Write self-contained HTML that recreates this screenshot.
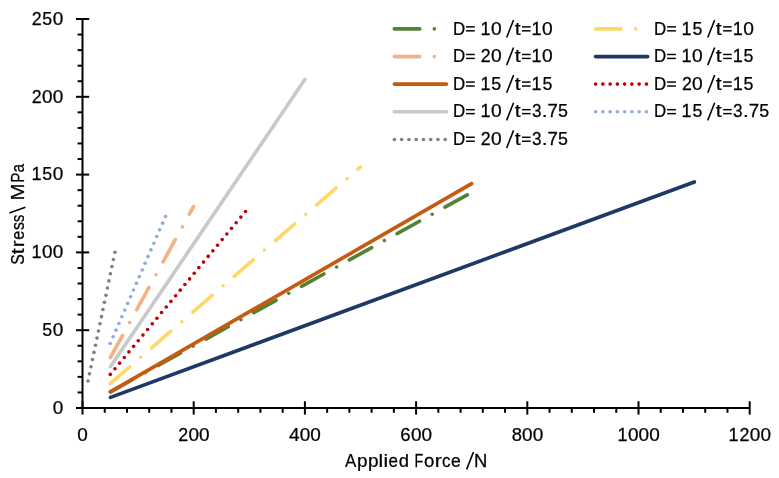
<!DOCTYPE html>
<html><head><meta charset="utf-8"><style>
html,body{margin:0;padding:0;background:#fff;}
svg{display:block;}
</style></head><body>
<svg width="779" height="478" viewBox="0 0 779 478">
<defs><filter id="g" x="-0.05" y="-0.05" width="1.1" height="1.1" color-interpolation-filters="sRGB"><feColorMatrix type="saturate" values="0"/></filter></defs>
<rect width="779" height="478" fill="#fff"/>
<g stroke-width="3.64" stroke-linecap="round" fill="none"><line x1="110.3" y1="391.8" x2="471.6" y2="192.5" stroke="#548235" stroke-dasharray="25.48 14.56 0 14.56" /><line x1="110.3" y1="383.5" x2="360.4" y2="167.0" stroke="#FFD966" stroke-dasharray="25.48 14.56 0 14.56" /><line x1="110.3" y1="357.6" x2="193.5" y2="206.6" stroke="#F4B183" stroke-dasharray="25.48 14.56 0 14.56" /><line x1="110.5" y1="397.4" x2="694.3" y2="182.0" stroke="#203864" /><line x1="110.5" y1="391.8" x2="471.6" y2="183.6" stroke="#C55A11" /><g fill="#C00000" stroke="none"><circle cx="110.30" cy="374.40" r="1.82"/><circle cx="114.96" cy="368.78" r="1.82"/><circle cx="119.62" cy="363.17" r="1.82"/><circle cx="124.29" cy="357.55" r="1.82"/><circle cx="128.95" cy="351.93" r="1.82"/><circle cx="133.61" cy="346.31" r="1.82"/><circle cx="138.27" cy="340.70" r="1.82"/><circle cx="142.93" cy="335.08" r="1.82"/><circle cx="147.60" cy="329.46" r="1.82"/><circle cx="152.26" cy="323.84" r="1.82"/><circle cx="156.92" cy="318.23" r="1.82"/><circle cx="161.58" cy="312.61" r="1.82"/><circle cx="166.24" cy="306.99" r="1.82"/><circle cx="170.91" cy="301.38" r="1.82"/><circle cx="175.57" cy="295.76" r="1.82"/><circle cx="180.23" cy="290.14" r="1.82"/><circle cx="184.89" cy="284.52" r="1.82"/><circle cx="189.56" cy="278.91" r="1.82"/><circle cx="194.22" cy="273.29" r="1.82"/><circle cx="198.88" cy="267.67" r="1.82"/><circle cx="203.54" cy="262.06" r="1.82"/><circle cx="208.20" cy="256.44" r="1.82"/><circle cx="212.87" cy="250.82" r="1.82"/><circle cx="217.53" cy="245.20" r="1.82"/><circle cx="222.19" cy="239.59" r="1.82"/><circle cx="226.85" cy="233.97" r="1.82"/><circle cx="231.51" cy="228.35" r="1.82"/><circle cx="236.18" cy="222.73" r="1.82"/><circle cx="240.84" cy="217.12" r="1.82"/><circle cx="245.50" cy="211.50" r="1.82"/></g><line x1="110.5" y1="366.6" x2="305.0" y2="79.3" stroke="#C9C9C9" /><g fill="#8FAADC" stroke="none"><circle cx="110.20" cy="343.50" r="1.82"/><circle cx="113.11" cy="336.82" r="1.82"/><circle cx="116.02" cy="330.13" r="1.82"/><circle cx="118.93" cy="323.45" r="1.82"/><circle cx="121.84" cy="316.76" r="1.82"/><circle cx="124.75" cy="310.08" r="1.82"/><circle cx="127.66" cy="303.39" r="1.82"/><circle cx="130.57" cy="296.71" r="1.82"/><circle cx="133.48" cy="290.03" r="1.82"/><circle cx="136.39" cy="283.34" r="1.82"/><circle cx="139.31" cy="276.66" r="1.82"/><circle cx="142.22" cy="269.97" r="1.82"/><circle cx="145.13" cy="263.29" r="1.82"/><circle cx="148.04" cy="256.61" r="1.82"/><circle cx="150.95" cy="249.92" r="1.82"/><circle cx="153.86" cy="243.24" r="1.82"/><circle cx="156.77" cy="236.55" r="1.82"/><circle cx="159.68" cy="229.87" r="1.82"/><circle cx="162.59" cy="223.18" r="1.82"/><circle cx="165.50" cy="216.50" r="1.82"/></g><g fill="#7F7F7F" stroke="none"><circle cx="88.00" cy="381.00" r="1.82"/><circle cx="89.49" cy="373.85" r="1.82"/><circle cx="90.99" cy="366.70" r="1.82"/><circle cx="92.48" cy="359.55" r="1.82"/><circle cx="93.98" cy="352.40" r="1.82"/><circle cx="95.47" cy="345.25" r="1.82"/><circle cx="96.97" cy="338.10" r="1.82"/><circle cx="98.46" cy="330.95" r="1.82"/><circle cx="99.96" cy="323.80" r="1.82"/><circle cx="101.45" cy="316.65" r="1.82"/><circle cx="102.94" cy="309.50" r="1.82"/><circle cx="104.44" cy="302.35" r="1.82"/><circle cx="105.93" cy="295.20" r="1.82"/><circle cx="107.43" cy="288.05" r="1.82"/><circle cx="108.92" cy="280.90" r="1.82"/><circle cx="110.42" cy="273.75" r="1.82"/><circle cx="111.91" cy="266.60" r="1.82"/><circle cx="113.41" cy="259.45" r="1.82"/><circle cx="114.90" cy="252.30" r="1.82"/></g></g>
<g stroke="#000" stroke-width="2" stroke-linecap="butt"><line x1="82.5" y1="408.0" x2="749.7" y2="408.0" /><line x1="82.5" y1="19.0" x2="82.5" y2="408.0" /><line x1="82.50" y1="401.3" x2="82.50" y2="414.6" /><line x1="104.74" y1="408.0" x2="104.74" y2="412.8" /><line x1="126.98" y1="408.0" x2="126.98" y2="412.8" /><line x1="149.22" y1="408.0" x2="149.22" y2="412.8" /><line x1="171.46" y1="408.0" x2="171.46" y2="412.8" /><line x1="193.70" y1="401.3" x2="193.70" y2="414.6" /><line x1="215.94" y1="408.0" x2="215.94" y2="412.8" /><line x1="238.18" y1="408.0" x2="238.18" y2="412.8" /><line x1="260.42" y1="408.0" x2="260.42" y2="412.8" /><line x1="282.66" y1="408.0" x2="282.66" y2="412.8" /><line x1="304.90" y1="401.3" x2="304.90" y2="414.6" /><line x1="327.14" y1="408.0" x2="327.14" y2="412.8" /><line x1="349.38" y1="408.0" x2="349.38" y2="412.8" /><line x1="371.62" y1="408.0" x2="371.62" y2="412.8" /><line x1="393.86" y1="408.0" x2="393.86" y2="412.8" /><line x1="416.10" y1="401.3" x2="416.10" y2="414.6" /><line x1="438.34" y1="408.0" x2="438.34" y2="412.8" /><line x1="460.58" y1="408.0" x2="460.58" y2="412.8" /><line x1="482.82" y1="408.0" x2="482.82" y2="412.8" /><line x1="505.06" y1="408.0" x2="505.06" y2="412.8" /><line x1="527.30" y1="401.3" x2="527.30" y2="414.6" /><line x1="549.54" y1="408.0" x2="549.54" y2="412.8" /><line x1="571.78" y1="408.0" x2="571.78" y2="412.8" /><line x1="594.02" y1="408.0" x2="594.02" y2="412.8" /><line x1="616.26" y1="408.0" x2="616.26" y2="412.8" /><line x1="638.50" y1="401.3" x2="638.50" y2="414.6" /><line x1="660.74" y1="408.0" x2="660.74" y2="412.8" /><line x1="682.98" y1="408.0" x2="682.98" y2="412.8" /><line x1="705.22" y1="408.0" x2="705.22" y2="412.8" /><line x1="727.46" y1="408.0" x2="727.46" y2="412.8" /><line x1="749.70" y1="401.3" x2="749.70" y2="414.6" /><line x1="76.0" y1="408.00" x2="89.2" y2="408.00" /><line x1="77.6" y1="392.44" x2="82.5" y2="392.44" /><line x1="77.6" y1="376.88" x2="82.5" y2="376.88" /><line x1="77.6" y1="361.32" x2="82.5" y2="361.32" /><line x1="77.6" y1="345.76" x2="82.5" y2="345.76" /><line x1="76.0" y1="330.20" x2="89.2" y2="330.20" /><line x1="77.6" y1="314.64" x2="82.5" y2="314.64" /><line x1="77.6" y1="299.08" x2="82.5" y2="299.08" /><line x1="77.6" y1="283.52" x2="82.5" y2="283.52" /><line x1="77.6" y1="267.96" x2="82.5" y2="267.96" /><line x1="76.0" y1="252.40" x2="89.2" y2="252.40" /><line x1="77.6" y1="236.84" x2="82.5" y2="236.84" /><line x1="77.6" y1="221.28" x2="82.5" y2="221.28" /><line x1="77.6" y1="205.72" x2="82.5" y2="205.72" /><line x1="77.6" y1="190.16" x2="82.5" y2="190.16" /><line x1="76.0" y1="174.60" x2="89.2" y2="174.60" /><line x1="77.6" y1="159.04" x2="82.5" y2="159.04" /><line x1="77.6" y1="143.48" x2="82.5" y2="143.48" /><line x1="77.6" y1="127.92" x2="82.5" y2="127.92" /><line x1="77.6" y1="112.36" x2="82.5" y2="112.36" /><line x1="76.0" y1="96.80" x2="89.2" y2="96.80" /><line x1="77.6" y1="81.24" x2="82.5" y2="81.24" /><line x1="77.6" y1="65.68" x2="82.5" y2="65.68" /><line x1="77.6" y1="50.12" x2="82.5" y2="50.12" /><line x1="77.6" y1="34.56" x2="82.5" y2="34.56" /><line x1="76.0" y1="19.00" x2="89.2" y2="19.00" /></g>
<g font-family="Liberation Sans" font-size="18.3" fill="#000" filter="url(#g)"></g><g font-family="Liberation Sans" font-size="18.3" fill="#000" stroke="#000" stroke-width="0.25" filter="url(#g)"><text transform="translate(77.30,440.8) scale(1.037,1)">0</text><text transform="translate(178.23,440.8) scale(0.975,1)">2</text><text transform="translate(188.50,440.8) scale(1.037,1)">0</text><text transform="translate(199.10,440.8) scale(1.037,1)">0</text><text transform="translate(289.12,440.8) scale(1.047,1)">4</text><text transform="translate(299.70,440.8) scale(1.037,1)">0</text><text transform="translate(310.30,440.8) scale(1.037,1)">0</text><text transform="translate(400.37,440.8) scale(1.016,1)">6</text><text transform="translate(410.90,440.8) scale(1.037,1)">0</text><text transform="translate(421.50,440.8) scale(1.037,1)">0</text><text transform="translate(511.70,440.8) scale(1.003,1)">8</text><text transform="translate(522.10,440.8) scale(1.037,1)">0</text><text transform="translate(532.70,440.8) scale(1.037,1)">0</text><text transform="translate(617.42,440.8) scale(0.987,1)">1</text><text transform="translate(628.00,440.8) scale(1.037,1)">0</text><text transform="translate(638.60,440.8) scale(1.037,1)">0</text><text transform="translate(649.20,440.8) scale(1.037,1)">0</text><text transform="translate(728.62,440.8) scale(0.987,1)">1</text><text transform="translate(739.53,440.8) scale(0.975,1)">2</text><text transform="translate(749.80,440.8) scale(1.037,1)">0</text><text transform="translate(760.40,440.8) scale(1.037,1)">0</text><text transform="translate(52.65,413.85) scale(1.037,1)">0</text><text transform="translate(42.33,336.05) scale(0.974,1)">5</text><text transform="translate(52.65,336.05) scale(1.037,1)">0</text><text transform="translate(31.47,258.25) scale(0.987,1)">1</text><text transform="translate(42.05,258.25) scale(1.037,1)">0</text><text transform="translate(52.65,258.25) scale(1.037,1)">0</text><text transform="translate(31.47,180.45) scale(0.987,1)">1</text><text transform="translate(42.33,180.45) scale(0.974,1)">5</text><text transform="translate(52.65,180.45) scale(1.037,1)">0</text><text transform="translate(31.78,102.65) scale(0.975,1)">2</text><text transform="translate(42.05,102.65) scale(1.037,1)">0</text><text transform="translate(52.65,102.65) scale(1.037,1)">0</text><text transform="translate(31.78,24.85) scale(0.975,1)">2</text><text transform="translate(42.33,24.85) scale(0.974,1)">5</text><text transform="translate(52.65,24.85) scale(1.037,1)">0</text><text transform="translate(344.94,466.8) scale(0.923,1)">A</text><text transform="translate(357.01,466.8) scale(1.035,1)">p</text><text transform="translate(368.11,466.8) scale(1.035,1)">p</text><text transform="translate(378.58,466.8) scale(1.150,1)">l</text><text transform="translate(383.49,466.8) scale(1.150,1)">i</text><text transform="translate(388.54,466.8) scale(0.928,1)">e</text><text transform="translate(398.78,466.8) scale(1.007,1)">d</text><text transform="translate(414.61,466.8) scale(0.777,1)">F</text><text transform="translate(423.97,466.8) scale(1.018,1)">o</text><text transform="translate(434.80,466.8) scale(1.150,1)">r</text><text transform="translate(442.04,466.8) scale(0.935,1)">c</text><text transform="translate(451.01,466.8) scale(0.963,1)">e</text><text transform="translate(474.06,466.8) scale(1.008,1)">N</text><text transform="translate(23.5,264.85) rotate(-90) scale(0.862,1)">S</text><text transform="translate(23.5,254.28) rotate(-90) scale(1.150,1)">t</text><text transform="translate(23.5,247.33) rotate(-90) scale(1.129,1)">r</text><text transform="translate(23.5,239.73) rotate(-90) scale(0.893,1)">e</text><text transform="translate(23.5,229.99) rotate(-90) scale(0.864,1)">s</text><text transform="translate(23.5,222.25) rotate(-90) scale(0.825,1)">s</text><text transform="translate(23.5,200.51) rotate(-90) scale(1.119,1)">M</text><text transform="translate(23.5,182.67) rotate(-90) scale(0.828,1)">P</text><text transform="translate(23.5,172.51) rotate(-90) scale(0.843,1)">a</text></g>

<g stroke-width="3.64" stroke-linecap="round"><line x1="394.3" y1="28.9" x2="446.5" y2="28.9" stroke="#548235" stroke-dasharray="25.48 14.56 0 14.56" /><line x1="595.5" y1="28.9" x2="647.7" y2="28.9" stroke="#FFD966" stroke-dasharray="25.48 14.56 0 14.56" /><line x1="394.3" y1="56.6" x2="446.5" y2="56.6" stroke="#F4B183" stroke-dasharray="25.48 14.56 0 14.56" /><line x1="595.5" y1="56.6" x2="647.7" y2="56.6" stroke="#203864" /><line x1="394.3" y1="84.1" x2="446.5" y2="84.1" stroke="#C55A11" /><g fill="#C00000" stroke="none"><circle cx="595.60" cy="84.1" r="1.82"/><circle cx="602.86" cy="84.1" r="1.82"/><circle cx="610.12" cy="84.1" r="1.82"/><circle cx="617.38" cy="84.1" r="1.82"/><circle cx="624.64" cy="84.1" r="1.82"/><circle cx="631.90" cy="84.1" r="1.82"/><circle cx="639.16" cy="84.1" r="1.82"/><circle cx="646.42" cy="84.1" r="1.82"/></g><line x1="394.3" y1="111.7" x2="446.5" y2="111.7" stroke="#C9C9C9" /><g fill="#8FAADC" stroke="none"><circle cx="595.60" cy="111.7" r="1.82"/><circle cx="602.86" cy="111.7" r="1.82"/><circle cx="610.12" cy="111.7" r="1.82"/><circle cx="617.38" cy="111.7" r="1.82"/><circle cx="624.64" cy="111.7" r="1.82"/><circle cx="631.90" cy="111.7" r="1.82"/><circle cx="639.16" cy="111.7" r="1.82"/><circle cx="646.42" cy="111.7" r="1.82"/></g><g fill="#7F7F7F" stroke="none"><circle cx="394.40" cy="139.5" r="1.82"/><circle cx="401.66" cy="139.5" r="1.82"/><circle cx="408.92" cy="139.5" r="1.82"/><circle cx="416.18" cy="139.5" r="1.82"/><circle cx="423.44" cy="139.5" r="1.82"/><circle cx="430.70" cy="139.5" r="1.82"/><circle cx="437.96" cy="139.5" r="1.82"/><circle cx="445.22" cy="139.5" r="1.82"/></g></g><g font-family="Liberation Sans" font-size="18.3" fill="#000" stroke="#000" stroke-width="0.25" filter="url(#g)"><text transform="translate(452.89,34.6) scale(0.919,1)">D</text><text transform="translate(480.47,34.6) scale(0.987,1)">1</text><text transform="translate(490.99,34.6) scale(1.049,1)">0</text><text transform="translate(514.67,34.6) scale(1.150,1)">t</text><text transform="translate(531.57,34.6) scale(0.987,1)">1</text><text transform="translate(542.09,34.6) scale(1.049,1)">0</text><text transform="translate(653.99,34.6) scale(0.919,1)">D</text><text transform="translate(681.57,34.6) scale(0.987,1)">1</text><text transform="translate(692.43,34.6) scale(0.974,1)">5</text><text transform="translate(715.77,34.6) scale(1.150,1)">t</text><text transform="translate(732.67,34.6) scale(0.987,1)">1</text><text transform="translate(743.19,34.6) scale(1.049,1)">0</text><text transform="translate(452.89,62.2) scale(0.919,1)">D</text><text transform="translate(480.78,62.2) scale(0.975,1)">2</text><text transform="translate(490.99,62.2) scale(1.049,1)">0</text><text transform="translate(514.67,62.2) scale(1.150,1)">t</text><text transform="translate(531.57,62.2) scale(0.987,1)">1</text><text transform="translate(542.09,62.2) scale(1.049,1)">0</text><text transform="translate(653.99,62.2) scale(0.919,1)">D</text><text transform="translate(681.57,62.2) scale(0.987,1)">1</text><text transform="translate(692.09,62.2) scale(1.049,1)">0</text><text transform="translate(715.77,62.2) scale(1.150,1)">t</text><text transform="translate(732.67,62.2) scale(0.987,1)">1</text><text transform="translate(743.53,62.2) scale(0.974,1)">5</text><text transform="translate(452.89,89.8) scale(0.919,1)">D</text><text transform="translate(480.47,89.8) scale(0.987,1)">1</text><text transform="translate(491.33,89.8) scale(0.974,1)">5</text><text transform="translate(514.67,89.8) scale(1.150,1)">t</text><text transform="translate(531.57,89.8) scale(0.987,1)">1</text><text transform="translate(542.43,89.8) scale(0.974,1)">5</text><text transform="translate(653.99,89.8) scale(0.919,1)">D</text><text transform="translate(681.88,89.8) scale(0.975,1)">2</text><text transform="translate(692.09,89.8) scale(1.049,1)">0</text><text transform="translate(715.77,89.8) scale(1.150,1)">t</text><text transform="translate(732.67,89.8) scale(0.987,1)">1</text><text transform="translate(743.53,89.8) scale(0.974,1)">5</text><text transform="translate(452.89,117.4) scale(0.919,1)">D</text><text transform="translate(480.47,117.4) scale(0.987,1)">1</text><text transform="translate(490.99,117.4) scale(1.049,1)">0</text><text transform="translate(514.67,117.4) scale(1.150,1)">t</text><text transform="translate(531.95,117.4) scale(0.939,1)">3</text><text transform="translate(541.85,117.4) scale(1.150,1)">.</text><text transform="translate(547.54,117.4) scale(1.022,1)">7</text><text transform="translate(558.08,117.4) scale(0.974,1)">5</text><text transform="translate(653.99,117.4) scale(0.919,1)">D</text><text transform="translate(681.57,117.4) scale(0.987,1)">1</text><text transform="translate(692.43,117.4) scale(0.974,1)">5</text><text transform="translate(715.77,117.4) scale(1.150,1)">t</text><text transform="translate(733.05,117.4) scale(0.939,1)">3</text><text transform="translate(742.95,117.4) scale(1.150,1)">.</text><text transform="translate(748.64,117.4) scale(1.022,1)">7</text><text transform="translate(759.18,117.4) scale(0.974,1)">5</text><text transform="translate(452.89,145.0) scale(0.919,1)">D</text><text transform="translate(480.78,145.0) scale(0.975,1)">2</text><text transform="translate(490.99,145.0) scale(1.049,1)">0</text><text transform="translate(514.67,145.0) scale(1.150,1)">t</text><text transform="translate(531.95,145.0) scale(0.939,1)">3</text><text transform="translate(541.85,145.0) scale(1.150,1)">.</text><text transform="translate(547.54,145.0) scale(1.022,1)">7</text><text transform="translate(558.08,145.0) scale(0.974,1)">5</text></g><g fill="#000"><rect x="466.00" y="26.15" width="8.80" height="1.45"/><rect x="466.00" y="30.10" width="8.80" height="1.45"/><rect x="522.00" y="26.15" width="8.60" height="1.45"/><rect x="522.00" y="30.10" width="8.60" height="1.45"/><rect x="667.10" y="26.15" width="8.80" height="1.45"/><rect x="667.10" y="30.10" width="8.80" height="1.45"/><rect x="723.10" y="26.15" width="8.60" height="1.45"/><rect x="723.10" y="30.10" width="8.60" height="1.45"/><rect x="466.00" y="53.75" width="8.80" height="1.45"/><rect x="466.00" y="57.70" width="8.80" height="1.45"/><rect x="522.00" y="53.75" width="8.60" height="1.45"/><rect x="522.00" y="57.70" width="8.60" height="1.45"/><rect x="667.10" y="53.75" width="8.80" height="1.45"/><rect x="667.10" y="57.70" width="8.80" height="1.45"/><rect x="723.10" y="53.75" width="8.60" height="1.45"/><rect x="723.10" y="57.70" width="8.60" height="1.45"/><rect x="466.00" y="81.35" width="8.80" height="1.45"/><rect x="466.00" y="85.30" width="8.80" height="1.45"/><rect x="522.00" y="81.35" width="8.60" height="1.45"/><rect x="522.00" y="85.30" width="8.60" height="1.45"/><rect x="667.10" y="81.35" width="8.80" height="1.45"/><rect x="667.10" y="85.30" width="8.80" height="1.45"/><rect x="723.10" y="81.35" width="8.60" height="1.45"/><rect x="723.10" y="85.30" width="8.60" height="1.45"/><rect x="466.00" y="108.95" width="8.80" height="1.45"/><rect x="466.00" y="112.90" width="8.80" height="1.45"/><rect x="522.00" y="108.95" width="8.60" height="1.45"/><rect x="522.00" y="112.90" width="8.60" height="1.45"/><rect x="667.10" y="108.95" width="8.80" height="1.45"/><rect x="667.10" y="112.90" width="8.80" height="1.45"/><rect x="723.10" y="108.95" width="8.60" height="1.45"/><rect x="723.10" y="112.90" width="8.60" height="1.45"/><rect x="466.00" y="136.55" width="8.80" height="1.45"/><rect x="466.00" y="140.50" width="8.80" height="1.45"/><rect x="522.00" y="136.55" width="8.60" height="1.45"/><rect x="522.00" y="140.50" width="8.60" height="1.45"/></g><g stroke="#000" stroke-width="1.55" stroke-linecap="butt"><line x1="466.65" y1="469.35" x2="473.45" y2="452.05"/><line x1="9.30" y1="213.05" x2="25.40" y2="207.25"/><line x1="506.64" y1="37.55" x2="513.56" y2="19.95"/><line x1="707.74" y1="37.55" x2="714.66" y2="19.95"/><line x1="506.64" y1="65.15" x2="513.56" y2="47.55"/><line x1="707.74" y1="65.15" x2="714.66" y2="47.55"/><line x1="506.64" y1="92.75" x2="513.56" y2="75.15"/><line x1="707.74" y1="92.75" x2="714.66" y2="75.15"/><line x1="506.64" y1="120.35" x2="513.56" y2="102.75"/><line x1="707.74" y1="120.35" x2="714.66" y2="102.75"/><line x1="506.64" y1="147.95" x2="513.56" y2="130.35"/></g>
</svg>
</body></html>
